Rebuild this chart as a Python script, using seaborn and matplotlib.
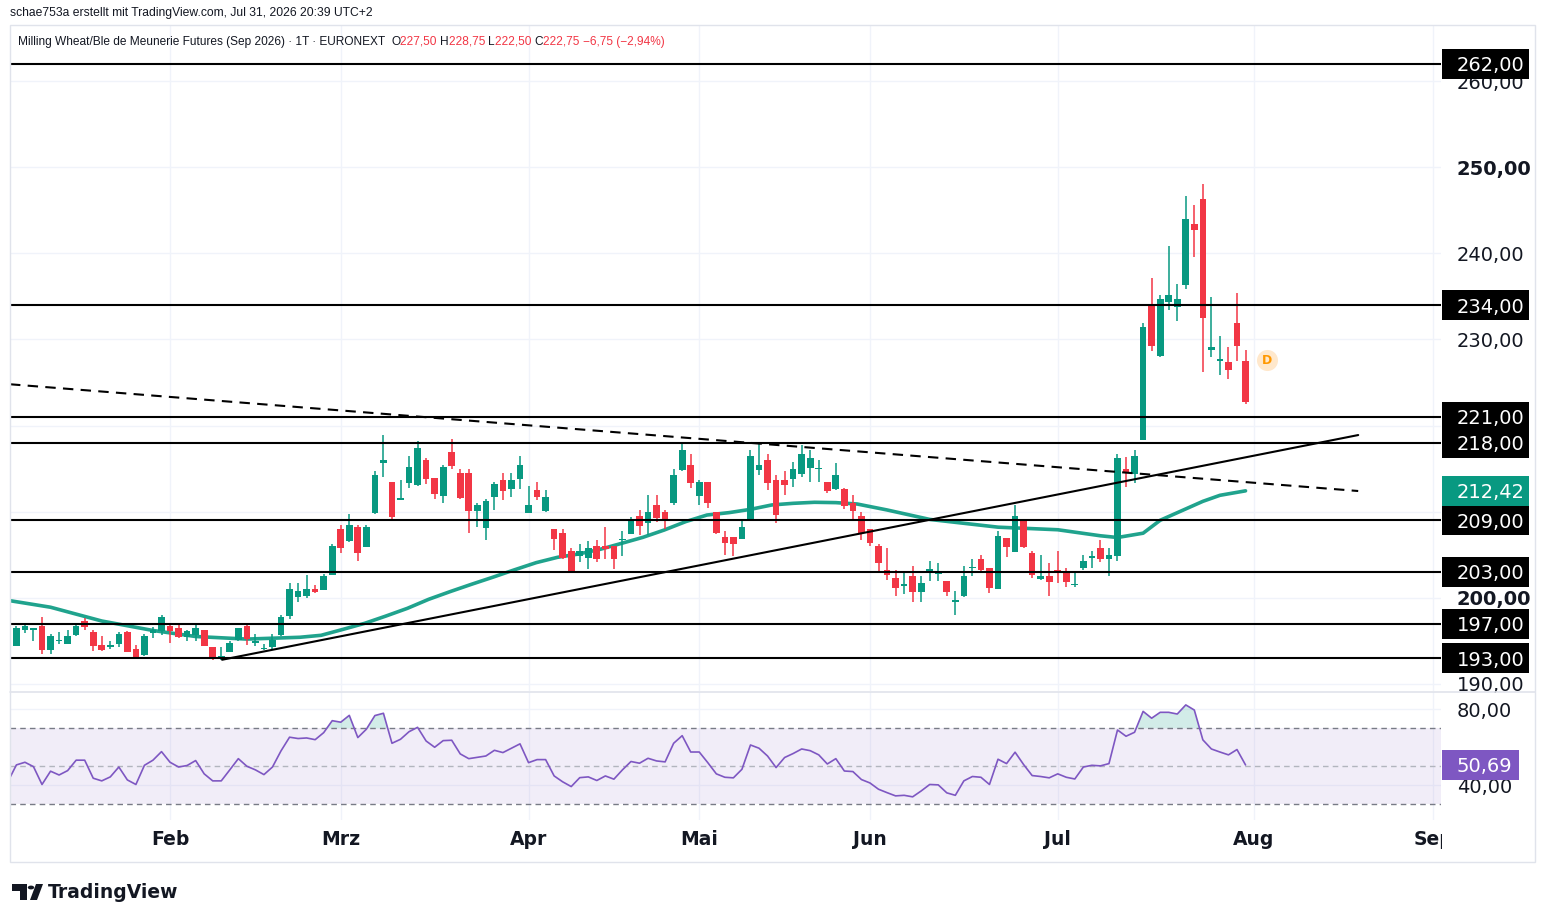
import numpy as np
import pandas as pd
import seaborn as sns
import matplotlib.pyplot as plt
from matplotlib.patches import Rectangle, Polygon, Circle
from matplotlib.transforms import blended_transform_factory

# daily candles, Jan 6 - Jul 31 2026 (bar index 0..145)
opens = [193.7, 194.4, 196.2, 196.3, 196.7, 193.9, 194.95, 194.65, 195.7, 197.3,
         196.0, 194.5, 194.25, 194.65, 196.0, 194.05, 193.35, 195.95, 196.15, 196.7,
         196.45, 195.5, 195.65, 196.25, 194.25, 192.85, 193.75, 195.1, 196.7, 194.8,
         194.0, 194.25, 195.7, 197.9, 200.1, 200.15, 201.0, 200.9, 202.7, 208.0,
         206.6, 208.2, 205.95, 209.9, 215.6, 213.45, 211.4, 213.35, 213.1, 216.0,
         213.9, 211.85, 216.95, 214.55, 214.55, 210.1, 208.15, 211.65, 213.65, 212.65,
         213.85, 209.9, 212.5, 210.1, 208.0, 207.5, 205.45, 204.9, 204.65, 206.0,
         206.0, 206.05, 206.7, 207.4, 209.5, 208.65, 210.75, 210.0, 210.95, 214.85,
         215.4, 211.85, 213.45, 209.95, 207.0, 207.0, 206.85, 209.1, 214.85, 216.0,
         213.7, 213.7, 213.8, 214.35, 215.05, 214.9, 213.45, 212.65, 212.6, 211.0,
         209.5, 208.0, 206.0, 203.2, 202.3, 201.4, 202.55, 200.7, 203.15, 202.75,
         201.95, 199.45, 200.15, 203.4, 204.45, 203.45, 201.0, 206.9, 205.35, 209.05,
         205.15, 202.2, 202.55, 203.2, 203.0, 201.45, 203.4, 204.65, 205.75, 204.45,
         204.85, 214.95, 214.35, 218.35, 233.95, 228.1, 234.3, 233.8, 236.35, 243.4,
         246.3, 228.8, 227.55, 227.35, 231.9, 227.5]
highs = [194.6, 196.7, 197.1, 196.4, 197.8, 195.8, 196.0, 196.25, 197.1, 197.6,
         196.25, 195.55, 195.0, 196.05, 196.1, 194.5, 195.8, 196.55, 198.0, 197.0,
         197.1, 196.2, 197.1, 196.3, 194.3, 194.3, 195.0, 196.45, 197.1, 195.8,
         194.6, 195.8, 198.0, 201.7, 201.7, 202.6, 201.5, 202.75, 206.25, 208.45,
         209.7, 208.4, 208.4, 214.7, 218.9, 213.45, 213.7, 216.5, 218.2, 216.25,
         213.9, 215.45, 218.45, 214.95, 214.95, 211.0, 211.45, 213.45, 214.45, 214.45,
         216.5, 213.0, 213.45, 212.5, 208.0, 208.0, 205.75, 206.25, 206.65, 206.7,
         208.2, 206.05, 207.7, 209.4, 210.2, 211.95, 211.95, 210.2, 214.95, 217.95,
         216.7, 213.7, 213.45, 210.0, 207.7, 207.0, 209.0, 217.15, 217.95, 216.7,
         214.25, 214.75, 215.75, 217.75, 217.15, 216.0, 213.5, 215.6, 212.8, 211.95,
         210.0, 208.0, 206.25, 205.75, 203.2, 202.9, 203.7, 202.5, 204.3, 204.0,
         202.0, 200.8, 203.7, 204.45, 204.95, 203.45, 207.75, 206.9, 210.75, 209.05,
         205.45, 204.95, 204.0, 205.45, 203.4, 202.85, 204.95, 205.45, 206.7, 205.75,
         216.7, 216.3, 217.15, 231.9, 237.2, 235.15, 240.85, 236.45, 246.65, 245.6,
         248.05, 234.95, 230.45, 229.15, 235.35, 228.75]
lows = [193.6, 194.4, 195.9, 195.0, 193.5, 193.5, 194.6, 194.6, 195.6, 196.3,
        193.85, 193.85, 194.1, 194.3, 193.7, 192.85, 193.2, 195.35, 195.65, 194.8,
        195.3, 195.0, 195.0, 194.4, 192.75, 192.8, 193.7, 195.0, 194.5, 194.4,
        193.9, 194.1, 195.6, 197.5, 199.55, 200.0, 200.6, 200.9, 202.7, 205.25,
        206.5, 204.3, 205.95, 209.75, 214.0, 209.0, 211.3, 212.8, 213.0, 213.25,
        211.45, 211.05, 215.0, 211.45, 207.55, 208.25, 206.75, 210.25, 211.3, 211.75,
        212.6, 209.9, 211.3, 210.0, 205.5, 204.45, 202.9, 204.1, 203.3, 204.1,
        204.45, 203.3, 204.8, 207.4, 207.3, 207.3, 208.85, 208.0, 210.8, 214.7,
        212.8, 210.8, 210.45, 207.4, 204.95, 204.8, 206.85, 209.1, 214.3, 212.5,
        208.7, 211.95, 212.9, 214.0, 213.5, 213.5, 212.15, 212.5, 210.3, 209.05,
        206.7, 206.0, 203.0, 202.05, 200.2, 200.4, 199.55, 199.55, 202.0, 202.0,
        200.2, 198.0, 200.05, 202.55, 202.85, 200.6, 201.0, 204.75, 205.35, 205.8,
        202.35, 202.05, 200.2, 201.75, 201.3, 201.3, 203.2, 203.5, 204.1, 202.55,
        204.3, 212.85, 213.3, 218.3, 228.65, 228.0, 233.45, 232.2, 235.85, 239.55,
        226.25, 228.0, 225.9, 225.4, 227.45, 222.5]
closes = [194.5, 196.45, 196.7, 196.35, 193.9, 195.55, 195.0, 195.55, 196.7, 196.65,
          194.45, 193.95, 194.5, 195.8, 193.75, 192.95, 195.55, 196.25, 197.75, 196.15,
          195.5, 196.15, 196.45, 194.4, 193.1, 193.2, 194.8, 196.45, 195.2, 194.85,
          194.05, 195.1, 197.8, 201.0, 200.75, 201.0, 200.7, 202.55, 206.0, 205.75,
          208.4, 205.15, 208.2, 214.25, 216.0, 209.4, 211.5, 215.2, 217.4, 213.85,
          212.05, 215.2, 215.35, 211.6, 210.1, 210.8, 211.25, 213.2, 212.45, 213.7,
          215.4, 210.8, 211.65, 211.7, 206.85, 204.65, 203.15, 205.45, 205.75, 204.45,
          205.7, 204.45, 206.75, 209.1, 208.35, 209.95, 209.25, 208.9, 214.25, 217.15,
          213.35, 213.4, 210.95, 207.5, 206.4, 206.2, 208.2, 216.45, 215.4, 213.35,
          209.6, 213.1, 214.95, 216.7, 216.2, 214.95, 212.4, 214.25, 210.7, 210.1,
          207.5, 206.4, 204.0, 202.65, 201.15, 201.45, 200.7, 201.7, 203.2, 202.9,
          200.7, 199.75, 202.55, 203.45, 203.2, 201.15, 207.15, 205.95, 209.5, 205.95,
          202.65, 202.55, 201.85, 202.9, 201.85, 201.5, 204.25, 204.7, 204.45, 204.95,
          216.2, 214.65, 216.45, 231.5, 229.25, 234.7, 235.15, 234.7, 244.05, 242.7,
          232.55, 229.1, 227.6, 226.4, 229.3, 222.75]

# moving average (bar position, price)
ma_idx = [0, 5, 11, 17, 22, 28, 34.2, 36.7, 39.3, 41.8, 44.3, 46.8, 49.3, 51.8,
          54.3, 56.8, 59.3, 61.9, 64.4, 66.9, 69.4, 71.9, 74.4, 76.9, 79.4, 81.9,
          84.5, 87.0, 89.5, 92.0, 94.5, 97.0, 99.5, 103, 108, 116, 123, 128,
          130, 133, 135, 140, 142, 145]
ma_val = [199.7, 198.9, 197.3, 196.2, 195.5, 195.2, 195.41, 195.64, 196.34, 197.03,
          197.88, 198.77, 199.82, 200.71, 201.56, 202.38, 203.23, 204.08, 204.7, 205.09,
          205.63, 206.32, 207.02, 207.87, 208.84, 209.61, 209.89, 210.27, 210.78, 210.97,
          211.09, 211.05, 210.89, 210.2, 209.1, 208.2, 207.9, 207.2,
          207.0, 207.5, 209.0, 211.2, 211.9, 212.42]

rsi = [41.9, 50.7, 52.1, 49.8, 40.4, 47.4, 45.4, 47.7, 53.2, 53.2,
       43.7, 42.3, 44.4, 49.6, 42.8, 40.4, 50.5, 53.2, 57.7, 52.1,
       49.6, 50.4, 53.0, 46.0, 42.3, 42.3, 48.1, 54.0, 50.0, 48.1,
       45.6, 49.6, 58.1, 65.3, 64.6, 64.9, 64.0, 67.7, 74.0, 73.2,
       76.8, 65.1, 69.5, 76.7, 77.9, 62.1, 64.2, 68.2, 70.5, 63.3,
       60.0, 63.5, 63.7, 56.5, 54.0, 54.7, 55.4, 58.4, 57.2, 59.5,
       61.8, 51.9, 53.5, 53.5, 44.9, 41.8, 39.3, 44.0, 44.4, 42.5,
       44.9, 43.2, 48.1, 52.5, 51.6, 54.2, 52.8, 52.3, 62.1, 66.1,
       57.5, 57.5, 51.9, 46.0, 44.2, 43.9, 48.4, 61.2, 59.5, 55.4,
       49.3, 54.6, 56.7, 59.1, 58.2, 56.0, 51.2, 54.0, 47.5, 47.2,
       43.0, 41.2, 37.9, 36.1, 34.4, 34.7, 33.9, 37.0, 40.4, 40.2,
       36.0, 34.7, 42.3, 44.6, 44.2, 40.4, 53.7, 51.4, 57.4, 50.9,
       45.1, 44.6, 43.9, 46.0, 44.2, 43.3, 49.6, 50.5, 50.2, 51.4,
       69.1, 65.8, 67.9, 78.9, 75.3, 78.4, 78.4, 77.5, 82.3, 79.6,
       63.9, 59.1, 57.5, 56.0, 58.8, 50.69]

levels = [262, 234, 221, 218, 209, 203, 197, 193]
level_labels = ["262,00", "234,00", "221,00", "218,00", "209,00", "203,00", "197,00", "193,00"]

# trend lines: (bar position, price) anchors
falling_line = [(0.25, 224.8), (158.2, 212.4)]
rising_line = [(25.1, 192.8), (158.2, 218.9)]

month_idx = [19, 39, 61, 81, 101, 123, 146, 167]
month_names = ["Feb", "Mrz", "Apr", "Mai", "Jun", "Jul", "Aug", "Sep"]

price_ticks = [190, 200, 210, 220, 230, 240, 250, 260]
hidden_ticks = [210, 220]  # covered by the level boxes in the original
rsi_ticks = [40, 80]

GREEN = "#089981"
RED = "#f23645"
PURPLE = "#7e57c2"
GRID = "#f0f3fa"
TXT = "#131722"

sns.set_theme(style="white")
plt.rcParams["font.family"] = ["DejaVu Sans"]

W, H = 1545, 923
fig = plt.figure(figsize=(W / 100, H / 100), dpi=100)
fig.patch.set_facecolor("white")


def fx(px):
    return px / W


def fy(py):
    return 1 - py / H


ax = fig.add_axes([fx(10), fy(691), fx(1441) - fx(10), fy(25) - fy(691)])
ax_rsi = fig.add_axes([fx(10), fy(820), fx(1441) - fx(10), fy(692) - fy(820)])

df = pd.DataFrame({"open": opens, "high": highs, "low": lows, "close": closes})
df["idx"] = np.arange(len(df))
df["up"] = df["close"] >= df["open"]
colors = np.where(df["up"], GREEN, RED)

# --- price pane
ax.vlines(df["idx"], df["low"], df["high"], colors=colors, lw=1.1, zorder=3)
body_bot = np.minimum(df["open"], df["close"])
body_h = np.maximum((df["close"] - df["open"]).abs(), 0.15)
ax.bar(df["idx"], body_h, bottom=body_bot, width=0.78, color=colors,
       linewidth=0, zorder=4)

sns.lineplot(x=ma_idx, y=ma_val, ax=ax, color=GREEN, lw=2.6, alpha=0.9, zorder=2)

for lv in levels:
    ax.axhline(lv, color="black", lw=1.5, zorder=5)

ax.plot([p[0] for p in falling_line], [p[1] for p in falling_line],
        color="black", lw=1.5, dashes=(5, 3.5), zorder=5)
ax.plot([p[0] for p in rising_line], [p[1] for p in rising_line],
        color="black", lw=1.5, zorder=5)

# "D" marker
ax.scatter([147.5], [227.6], s=230, color="#ffe8cc", zorder=6, linewidths=0)
ax.text(147.5, 227.6, "D", color="#ff9800", fontsize=9, fontweight="bold",
        ha="center", va="center", zorder=7)

ax.set_xlim(0.25, 167.9)
ax.set_ylim(189.17, 266.53)
ax.set_xticks(month_idx)
ax.set_xticklabels([])
ax.set_yticks(price_ticks)
ax.yaxis.tick_right()
ax.set_yticklabels(["" if t in hidden_ticks else f"{t},00" for t in price_ticks])
ax.tick_params(axis="y", length=0, pad=11.5, labelsize=14, labelcolor=TXT)
ax.tick_params(axis="x", length=0)
for lab in ax.get_yticklabels():
    if lab.get_text() in ("250,00", "200,00"):
        lab.set_fontweight("bold")
ax.grid(True, color=GRID, lw=1)
for s in ax.spines.values():
    s.set_visible(False)

# price boxes on the right scale
box_tr = blended_transform_factory(fig.transFigure, ax.transData)
box_h = 30 / 8.609
for lv, lab in zip(levels, level_labels):
    ax.add_patch(Rectangle((fx(1442), lv - box_h / 2), fx(1529) - fx(1442), box_h,
                           transform=box_tr, facecolor="black", edgecolor="none",
                           clip_on=False, zorder=10))
    ax.text(fx(1457), lv, lab, transform=box_tr, color="white", fontsize=14,
            ha="left", va="center_baseline", clip_on=False, zorder=11)
ma_last = ma_val[-1]
ax.add_patch(Rectangle((fx(1442), ma_last - box_h / 2), fx(1529) - fx(1442), box_h,
                       transform=box_tr, facecolor=GREEN, edgecolor="none",
                       clip_on=False, zorder=10))
ax.text(fx(1457), ma_last, f"{ma_last:.2f}".replace(".", ","), transform=box_tr,
        color="white", fontsize=14, ha="left", va="center_baseline",
        clip_on=False, zorder=11)

# --- RSI pane
ridx = np.arange(len(rsi))
rsi_arr = np.array(rsi)
ax_rsi.axhspan(30, 70, color=PURPLE, alpha=0.1, lw=0)
ax_rsi.axhline(70, color="#787b86", lw=1, dashes=(4, 3))
ax_rsi.axhline(30, color="#787b86", lw=1, dashes=(4, 3))
ax_rsi.axhline(50, color="#b2b5be", lw=1, dashes=(4, 3))
ax_rsi.fill_between(ridx, 70, rsi_arr, where=rsi_arr > 70, interpolate=True,
                    color=GREEN, alpha=0.18, lw=0)
sns.lineplot(x=ridx, y=rsi_arr, ax=ax_rsi, color=PURPLE, lw=1.2)

ax_rsi.set_xlim(0.25, 167.9)
ax_rsi.set_ylim(21.7, 89.1)
ax_rsi.set_xticks(month_idx)
ax_rsi.set_xticklabels(month_names)
ax_rsi.set_yticks(rsi_ticks)
ax_rsi.yaxis.tick_right()
ax_rsi.set_yticklabels([f"{t},00" for t in rsi_ticks])
ax_rsi.tick_params(axis="y", length=0, pad=11.5, labelsize=14, labelcolor=TXT)
ax_rsi.tick_params(axis="x", length=0, pad=7, labelsize=13.5, labelcolor=TXT)
for lab in ax_rsi.get_xticklabels():
    lab.set_fontweight("bold")
ax_rsi.grid(True, color=GRID, lw=1)
for s in ax_rsi.spines.values():
    s.set_visible(False)

rsi_tr = blended_transform_factory(fig.transFigure, ax_rsi.transData)
rbox_h = 30 / 1.9
ax_rsi.add_patch(Rectangle((fx(1442), rsi[-1] - rbox_h / 2), fx(1519) - fx(1442), rbox_h,
                           transform=rsi_tr, facecolor=PURPLE, edgecolor="none",
                           clip_on=False, zorder=10))
ax_rsi.text(fx(1457), rsi[-1], f"{rsi[-1]:.2f}".replace(".", ","), transform=rsi_tr,
            color="white", fontsize=14, ha="left", va="center_baseline",
            clip_on=False, zorder=11)

# cut the "Sep" label at the price-scale edge, frame lines
fig.patches.append(Rectangle((fx(1441.5), fy(861)), fx(1534) - fx(1441.5), fy(821) - fy(861),
                             transform=fig.transFigure, facecolor="white",
                             edgecolor="none", zorder=20))
fig.patches.append(Rectangle((fx(10), fy(862)), fx(1535) - fx(10), fy(25) - fy(862),
                             transform=fig.transFigure, fill=False,
                             edgecolor="#e0e3eb", lw=1, zorder=21))
fig.lines.append(plt.Line2D([fx(10), fx(1535)], [fy(691.5), fy(691.5)],
                            transform=fig.transFigure, color="#e0e3eb", lw=1.2, zorder=21))

# header
fig.text(fx(10), fy(13), "schae753a erstellt mit TradingView.com, Jul 31, 2026 20:39 UTC+2",
         fontsize=8.7, family="Liberation Sans", color=TXT, ha="left", va="center")

pieces = [("Milling Wheat/Ble de Meunerie Futures (Sep 2026) \u00b7 1T \u00b7 EURONEXT  ", TXT),
          ("O", TXT), ("227,50 ", RED), ("H", TXT), ("228,75 ", RED),
          ("L", TXT), ("222,50 ", RED), ("C", TXT), ("222,75 ", RED),
          ("\u22126,75 (\u22122,94%)", RED)]
renderer = fig.canvas.get_renderer()
xpos = 18
for txt, col in pieces:
    t = fig.text(fx(xpos), fy(42), txt, fontsize=8.6, family="Liberation Sans",
                 color=col, ha="left", va="center")
    xpos += t.get_window_extent(renderer).width

# TradingView logo
logo_T = [(12, 884), (27, 884), (27, 900), (20, 900), (20, 891), (12, 891)]
logo_V = [(36, 884), (43, 884), (37, 900), (30, 900)]
for pts in (logo_T, logo_V):
    fig.patches.append(Polygon([(fx(a), fy(b)) for a, b in pts], closed=True,
                               transform=fig.transFigure, facecolor=TXT,
                               edgecolor="none", zorder=22))
fig.patches.append(Circle((fx(31), fy(887.5)), 3.2 / W, transform=fig.transFigure,
                          facecolor=TXT, edgecolor="none", zorder=22))
fig.text(fx(48), fy(892), "TradingView", fontsize=13.5, fontweight="bold",
         color=TXT, ha="left", va="center")

fig.savefig("out.png", dpi=100)
